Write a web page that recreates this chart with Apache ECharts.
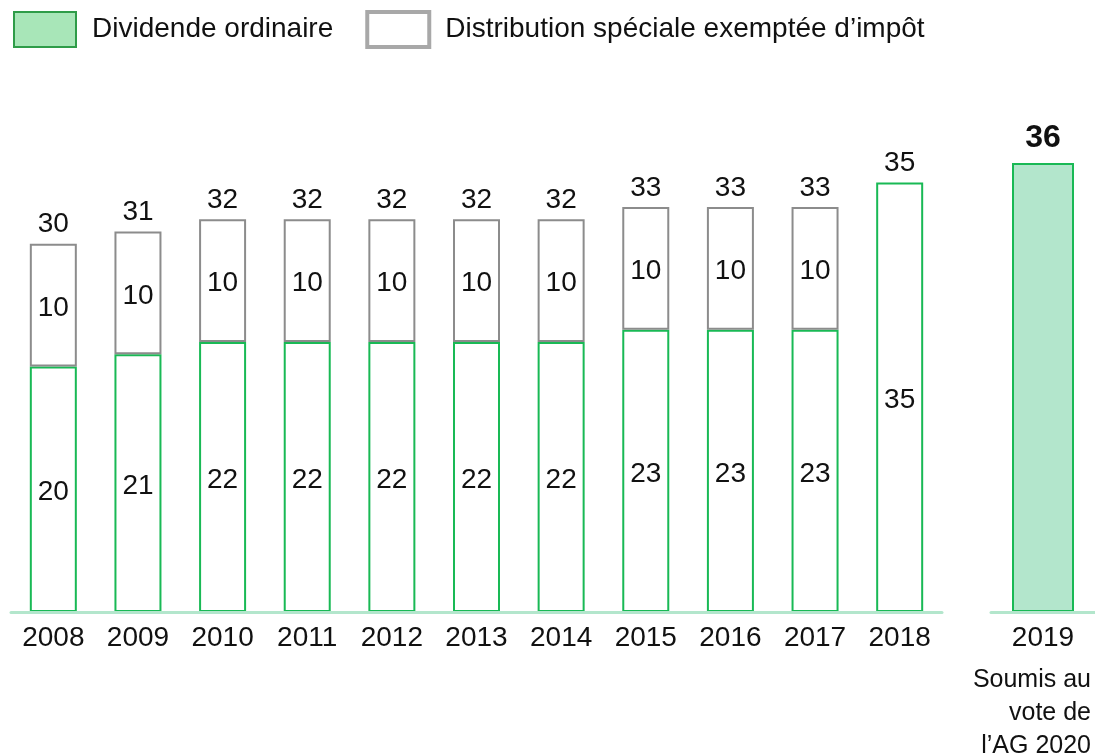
<!DOCTYPE html>
<html>
<head>
<meta charset="utf-8">
<script src="https://cdn.jsdelivr.net/npm/echarts@6/dist/echarts.min.js"></script>
<style>
  html, body { margin: 0; padding: 0; background: #fff; }
  #chart { width: 1095px; height: 754px; }
</style>
</head>
<body>
<div id="chart"></div>
<script>
// Historical years (left panel) and the proposed year (right panel)
const years = ['2008','2009','2010','2011','2012','2013','2014','2015','2016','2017','2018'];
const ordinaryDividend = [20, 21, 22, 22, 22, 22, 22, 23, 23, 23, 35];
const specialDistribution = [10, 10, 10, 10, 10, 10, 10, 10, 10, 10, null];
const proposedYear = ['2019'];
const proposedDividend = [36];
const proposedNote = 'Soumis au\nvote de\nl’AG 2020';

const SERIES_ORDINARY = 'Dividende ordinaire';
const SERIES_SPECIAL = 'Distribution spéciale exemptée d’impôt';

// Stack totals shown above each bar
const totals = ordinaryDividend.map((v, i) => v + (specialDistribution[i] || 0));

const GREEN = '#19b955';
const LIGHT_GREEN = '#b3e6cc';
const GREY = '#8c8c8c';
const FONT = 'Liberation Sans, Arial, sans-serif';
const TEXT = '#111';

const chart = echarts.init(document.getElementById('chart'));

const axisCommon = {
  type: 'category',
  z: 10,
  axisLine: { show: true, lineStyle: { color: LIGHT_GREEN, width: 3 } },
  axisTick: { show: false },
  axisLabel: { fontSize: 28, color: TEXT, fontFamily: FONT, margin: 12 }
};

const innerLabel = {
  show: true, position: 'inside', offset: [0, 3],
  fontSize: 28, color: TEXT, fontFamily: FONT
};

chart.setOption({
  animation: false,
  backgroundColor: '#fff',
  textStyle: { fontFamily: FONT },
  legend: {
    left: 13,
    top: 10,
    padding: 0,
    icon: 'rect',
    itemWidth: 62,
    itemHeight: 35,
    itemGap: 32,
    selectedMode: false,
    textStyle: { fontSize: 28, color: TEXT, fontFamily: FONT, padding: [0, 0, 0, 11] },
    data: [
      { name: SERIES_ORDINARY, itemStyle: { color: '#a8e6b8', borderColor: '#2e9c48', borderWidth: 2 } },
      { name: SERIES_SPECIAL, itemStyle: { color: '#fff', borderColor: '#a8a8a8', borderWidth: 4 } }
    ]
  },
  grid: [
    { left: 11, width: 931, top: 121, bottom: 142 },
    { left: 991, width: 112, top: 113, bottom: 142 }
  ],
  xAxis: [
    Object.assign({ gridIndex: 0, data: years }, axisCommon),
    Object.assign({ gridIndex: 1, data: proposedYear }, axisCommon)
  ],
  yAxis: [
    { gridIndex: 0, type: 'value', min: 0, max: 40, show: false },
    { gridIndex: 1, type: 'value', min: 0, max: 40, show: false }
  ],
  series: [
    {
      name: SERIES_ORDINARY,
      type: 'bar',
      stack: 'hist',
      xAxisIndex: 0, yAxisIndex: 0,
      barWidth: 47,
      data: ordinaryDividend,
      itemStyle: { color: '#fff', borderColor: GREEN, borderWidth: 2 },
      label: innerLabel
    },
    {
      name: SERIES_SPECIAL,
      type: 'bar',
      stack: 'hist',
      xAxisIndex: 0, yAxisIndex: 0,
      barWidth: 47,
      data: specialDistribution,
      itemStyle: { color: '#fff', borderColor: GREY, borderWidth: 2 },
      label: innerLabel
    },
    {
      name: 'Total',
      type: 'scatter',
      xAxisIndex: 0, yAxisIndex: 0,
      symbolSize: 0,
      itemStyle: { opacity: 1, color: 'transparent' },
      data: totals,
      label: { show: true, position: 'top', distance: 5, fontSize: 28, color: TEXT, fontFamily: FONT }
    },
    {
      name: SERIES_ORDINARY,
      type: 'bar',
      xAxisIndex: 1, yAxisIndex: 1,
      barWidth: 62,
      data: proposedDividend,
      itemStyle: { color: LIGHT_GREEN, borderColor: GREEN, borderWidth: 2 },
      label: { show: true, position: 'top', distance: 9, fontSize: 32, fontWeight: 'bold', color: TEXT, fontFamily: FONT }
    }
  ],
  graphic: [
    {
      type: 'text',
      x: 1091,
      y: 664,
      style: {
        text: proposedNote,
        align: 'right',
        verticalAlign: 'top',
        font: '25px ' + FONT,
        lineHeight: 33,
        fill: TEXT
      }
    }
  ]
});
</script>
</body>
</html>
